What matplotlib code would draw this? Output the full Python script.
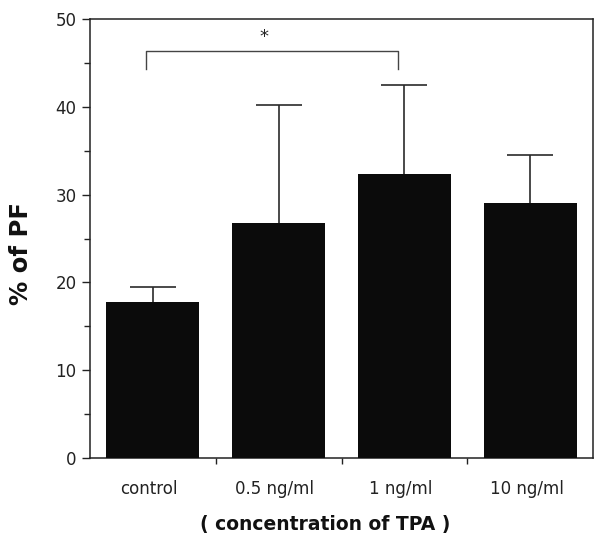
import numpy as np
import matplotlib.pyplot as plt

categories = ['control', '0.5 ng/ml', '1 ng/ml', '10 ng/ml']
means = [17.8, 26.8, 32.3, 29.0]
errs = [1.7, 13.4, 10.2, 5.5]

plt.rcParams['font.family'] = ['DejaVu Sans']

fig = plt.figure(figsize=(5.95, 5.36), dpi=100)
ax = fig.add_axes([0.151, 0.1455, 0.846, 0.819])

x = np.arange(len(categories))
ax.bar(x, means, width=0.74, color='#0b0b0b', zorder=3)
eb = ax.errorbar(x, means, yerr=[np.zeros(len(errs)), errs], fmt='none',
                 ecolor='#2a2a2a', elinewidth=1.2, capsize=16.5, capthick=1.2, zorder=2)
eb[1][0].set_visible(False)  # no lower caps

ax.set_xlim(-0.5, 3.5)
ax.set_ylim(0, 50)
ax.set_yticks([0, 10, 20, 30, 40, 50])
ax.set_yticks([5, 15, 25, 35, 45], minor=True)
ax.set_xticks([0.5, 1.5, 2.5])
ax.set_xticklabels([])
ax.tick_params(axis='y', which='major', length=6, width=1, labelsize=12, colors='#222')
ax.tick_params(axis='y', which='minor', length=4, width=1, colors='#222')
ax.tick_params(axis='x', length=4, width=1, colors='#222')
for i, c in enumerate(categories):
    ax.text(x[i] - 0.03, -2.5, c, ha='center', va='top', fontsize=12, color='#222')

for s in ax.spines.values():
    s.set_linewidth(1.1)
    s.set_color('#222')

ax.set_ylabel('% of PF', fontsize=17.5, fontweight='bold', color='#111')
ax.yaxis.set_label_coords(-0.112, 0.465)
ax.text(1.37, -6.5, '( concentration of TPA )', ha='center', va='top',
        fontsize=13.5, fontweight='bold', color='#111')

# significance bracket
ax.plot([-0.05, -0.05, 1.95, 1.95], [44.3, 46.4, 46.4, 44.3], color='#444', lw=1)
ax.text(0.88, 48.0, '*', ha='center', va='center', fontsize=13, color='#222')

fig.savefig('out.png', dpi=100)
